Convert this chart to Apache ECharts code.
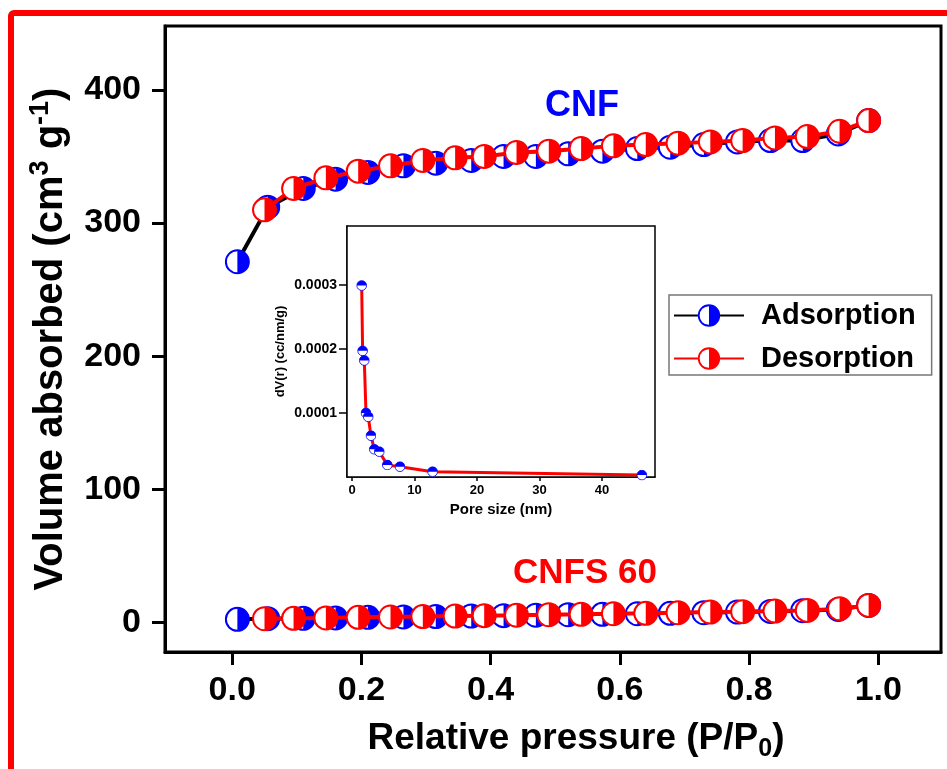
<!DOCTYPE html>
<html>
<head>
<meta charset="utf-8">
<script src="https://cdn.jsdelivr.net/npm/echarts@6/dist/echarts.min.js"></script>
<style>
html, body { margin: 0; padding: 0; background: #ffffff; }
#chart { width: 947px; height: 769px; }
</style>
</head>
<body>
<div id="chart"></div>
<script>
// Relative pressure (P/P0) of the adsorption and desorption branches
const adsP = [0.008, 0.055, 0.11, 0.16, 0.21, 0.265, 0.315, 0.37, 0.42, 0.47,
              0.52, 0.573, 0.627, 0.678, 0.73, 0.782, 0.833, 0.883, 0.938, 0.985];
const desP = [0.05, 0.095, 0.145, 0.195, 0.245, 0.295, 0.345, 0.39, 0.44, 0.49,
              0.54, 0.59, 0.64, 0.69, 0.74, 0.79, 0.84, 0.89, 0.94, 0.985];

// Volume absorbed (cm3 g-1), CNF
const cnfAds = [271, 312, 326, 333, 338, 343, 345, 347, 350, 350,
                352, 354, 356, 357, 359, 361, 362, 362, 367, 377];
const cnfDes = [310, 326, 334, 339, 343, 347, 349, 350, 353, 354,
                356, 358, 359, 360, 361, 362, 364, 365, 369, 377];

// Volume absorbed (cm3 g-1), CNFS 60
const cnfs60Ads = [2.5, 3, 3.3, 3.6, 4, 4.3, 4.6, 5, 5.3, 5.6,
                   6, 6.3, 6.7, 7, 7.5, 8, 8.5, 9, 10, 13];
const cnfs60Des = [3, 3.3, 3.6, 4, 4.3, 4.6, 5, 5.3, 5.6, 6,
                   6.3, 6.7, 7, 7.5, 8, 8.3, 8.7, 9.2, 10.5, 13];

// Pore size distribution (inset)
const poreSize = [1.55, 1.7, 1.97, 2.24, 2.6, 3.04, 3.57, 4.37, 5.65, 7.68, 12.9, 46.4];
const poreVol = [0.000299, 0.000197, 0.000182, 0.000100, 0.000094, 0.0000645,
                 0.0000433, 0.0000396, 0.0000188, 0.0000161, 0.0000083, 0.000003];

// Tick values
const pTicks = [0, 0.2, 0.4, 0.6, 0.8, 1.0];
const vTicks = [0, 100, 200, 300, 400];
const poreTicks = [0, 10, 20, 30, 40];
const poreVolTicks = [0.0001, 0.0002, 0.0003];

const FONT = '"Liberation Sans", Arial, Helvetica, sans-serif';
const BLUE = '#0000ff';
const RED = '#ff0000';

// Half-filled circle markers as inline SVG
function halfCircle(color, half) {
  const paths = {
    right: 'M26 3 A23 23 0 0 1 26 49 Z',
    top: 'M3 26 A23 23 0 0 1 49 26 Z'
  };
  const svg = "<svg xmlns='http://www.w3.org/2000/svg' width='52' height='52' viewBox='0 0 52 52'>" +
    "<circle cx='26' cy='26' r='23' fill='white' stroke='" + color + "' stroke-width='4'/>" +
    "<path d='" + paths[half] + "' fill='" + color + "'/></svg>";
  return 'image://data:image/svg+xml;charset=utf-8,' + encodeURIComponent(svg);
}
const adsSymbol = halfCircle(BLUE, 'right');
const desSymbol = halfCircle(RED, 'right');
const poreSymbol = halfCircle(BLUE, 'top');

const zip = (xs, ys) => xs.map((x, i) => [x, ys[i]]);

function build() {
  const chart = echarts.init(document.getElementById('chart'), null, { renderer: 'canvas' });
  const axisText = { fontFamily: FONT, fontWeight: 'bold', color: '#000' };

  const option = {
    animation: false,
    backgroundColor: '#ffffff',
    grid: [
      { left: 165, right: 6, top: 26, bottom: 117, show: true, borderColor: '#000', borderWidth: 3, backgroundColor: 'transparent', z: 1 },
      { left: 347, top: 226, width: 308, height: 251, show: true, borderColor: '#000', borderWidth: 1.5, backgroundColor: '#ffffff', z: 5 }
    ],
    legend: {
      data: ['Adsorption', 'Desorption'],
      orient: 'vertical',
      left: 669,
      top: 295,
      padding: [6, 16, 2, 4],
      itemGap: 14,
      itemWidth: 70,
      itemHeight: 29,
      borderColor: '#777',
      borderWidth: 1.5,
      backgroundColor: '#ffffff',
      selectedMode: false,
      textStyle: { fontFamily: FONT, fontWeight: 'bold', fontSize: 29, color: '#000', lineHeight: 28, padding: [0, 0, 0, 12] },
      z: 10
    },
    xAxis: [
      {
        type: 'value', gridIndex: 0, min: -0.104, max: 1.097,
        splitLine: { show: false },
        axisLine: { show: true, onZero: false, lineStyle: { color: '#000', width: 3 } },
        axisTick: { show: true, inside: false, length: 13, lineStyle: { color: '#000', width: 3 }, customValues: pTicks },
        axisLabel: { ...axisText, fontSize: 34, margin: 22, customValues: pTicks, formatter: v => v.toFixed(1) },
        name: '{t|Relative pressure (P/P}{sub|0}{t|)}',
        nameLocation: 'middle',
        nameGap: 64,
        nameTextStyle: {
          padding: [0, 0, 0, 46],
          rich: {
            t: { ...axisText, fontSize: 37, lineHeight: 46, verticalAlign: 'middle' },
            sub: { ...axisText, fontSize: 25, lineHeight: 22, verticalAlign: 'bottom' }
          }
        }
      },
      {
        type: 'value', gridIndex: 1, min: -0.8, max: 48.5,
        splitLine: { show: false },
        axisLine: { show: true, onZero: false, lineStyle: { color: '#000', width: 1.5 } },
        axisTick: { show: true, inside: false, length: 4, lineStyle: { color: '#000', width: 1.5 }, customValues: poreTicks },
        axisLabel: { ...axisText, fontSize: 13, margin: 7, customValues: poreTicks },
        name: 'Pore size (nm)',
        nameLocation: 'middle',
        nameGap: 25,
        nameTextStyle: { ...axisText, fontSize: 15 }
      }
    ],
    yAxis: [
      {
        type: 'value', gridIndex: 0, min: -22, max: 448,
        splitLine: { show: false },
        axisLine: { show: true, onZero: false, lineStyle: { color: '#000', width: 3 } },
        axisTick: { show: true, inside: false, length: 13, lineStyle: { color: '#000', width: 3 }, customValues: vTicks },
        axisLabel: { ...axisText, fontSize: 34, margin: 24, customValues: vTicks },
        name: '{t|Volume absorbed (cm}{sup|3}{t| g}{sup|-1}{t|)}',
        nameLocation: 'middle',
        nameGap: 90,
        nameRotate: 90,
        nameTextStyle: {
          rich: {
            t: { ...axisText, fontSize: 40, lineHeight: 48, verticalAlign: 'middle' },
            sup: { ...axisText, fontSize: 27, lineHeight: 24, verticalAlign: 'top' }
          }
        }
      },
      {
        type: 'value', gridIndex: 1, min: 0, max: 0.000392,
        splitLine: { show: false },
        axisLine: { show: true, onZero: false, lineStyle: { color: '#000', width: 1.5 } },
        axisTick: { show: true, inside: false, length: 8, lineStyle: { color: '#000', width: 1.5 }, customValues: poreVolTicks },
        axisLabel: { ...axisText, fontSize: 14, margin: 10, customValues: poreVolTicks, formatter: v => v.toFixed(4) },
        name: 'dV(r) (cc/nm/g)',
        nameLocation: 'middle',
        nameGap: 60,
        nameRotate: 90,
        nameTextStyle: { ...axisText, fontSize: 13 }
      }
    ],
    series: [
      {
        name: 'Adsorption', type: 'line', xAxisIndex: 0, yAxisIndex: 0, z: 2,
        data: zip(adsP, cnfAds),
        symbol: adsSymbol, symbolSize: 26,
        itemStyle: { color: BLUE },
        lineStyle: { color: '#000', width: 4 }
      },
      {
        name: 'Desorption', type: 'line', xAxisIndex: 0, yAxisIndex: 0, z: 3,
        data: zip(desP, cnfDes),
        symbol: desSymbol, symbolSize: 26,
        itemStyle: { color: RED },
        lineStyle: { color: RED, width: 4 }
      },
      {
        name: 'Adsorption', type: 'line', xAxisIndex: 0, yAxisIndex: 0, z: 2,
        data: zip(adsP, cnfs60Ads),
        symbol: adsSymbol, symbolSize: 26,
        itemStyle: { color: BLUE },
        lineStyle: { color: '#000', width: 4 }
      },
      {
        name: 'Desorption', type: 'line', xAxisIndex: 0, yAxisIndex: 0, z: 3,
        data: zip(desP, cnfs60Des),
        symbol: desSymbol, symbolSize: 26,
        itemStyle: { color: RED },
        lineStyle: { color: RED, width: 4 }
      },
      {
        name: 'Pore size distribution', type: 'line', xAxisIndex: 1, yAxisIndex: 1, z: 6,
        data: zip(poreSize, poreVol),
        symbol: poreSymbol, symbolSize: 11,
        itemStyle: { color: BLUE },
        lineStyle: { color: RED, width: 3 }
      }
    ],
    graphic: [
      {
        type: 'rect', z: 100, silent: true,
        shape: { x: 11, y: 13, width: 1000, height: 1000, r: 3 },
        style: { fill: 'none', stroke: RED, lineWidth: 6 }
      },
      {
        type: 'text', left: 545, top: 88, z: 20,
        style: { text: 'CNF', fill: BLUE, font: 'bold 36px ' + FONT }
      },
      {
        type: 'text', left: 513, top: 556, z: 20,
        style: { text: 'CNFS 60', fill: RED, font: 'bold 35px ' + FONT }
      }
    ]
  };
  chart.setOption(option);
}

// Wait for the marker images before drawing
Promise.all([adsSymbol, desSymbol, poreSymbol].map(s => new Promise(res => {
  const img = new Image();
  img.onload = img.onerror = res;
  img.src = s.slice('image://'.length);
}))).then(build);
</script>
</body>
</html>
